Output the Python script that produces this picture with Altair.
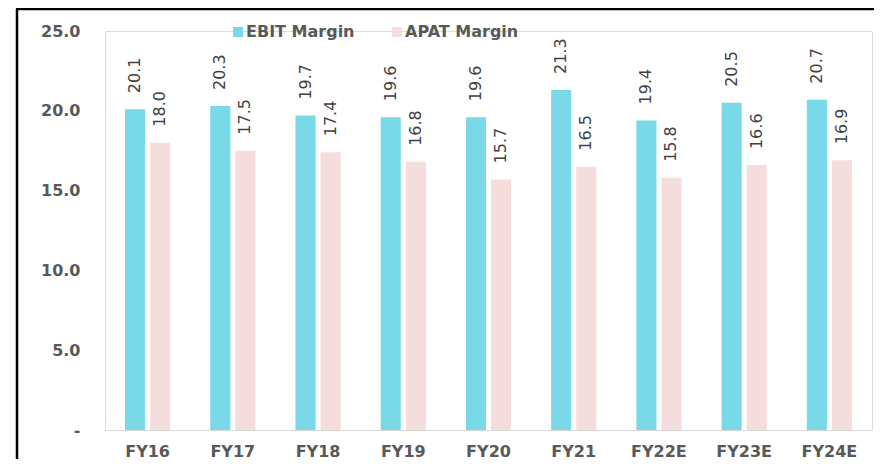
import altair as alt
import pandas as pd

years = ["FY16", "FY17", "FY18", "FY19", "FY20", "FY21", "FY22E", "FY23E", "FY24E"]
ebit = [20.1, 20.3, 19.7, 19.6, 19.6, 21.3, 19.4, 20.5, 20.7]
apat = [18.0, 17.5, 17.4, 16.8, 15.7, 16.5, 15.8, 16.6, 16.9]
series = ["EBIT Margin", "APAT Margin"]
colors = ["#79D9E7", "#F5DDDD"]

rows = []
for i, y in enumerate(years):
    rows.append({"year": y, "series": series[0], "value": ebit[i]})
    rows.append({"year": y, "series": series[1], "value": apat[i]})
df = pd.DataFrame(rows)

W, H = 767, 399

x = alt.X("year:N", sort=years, title=None,
          scale=alt.Scale(paddingInner=0.47, paddingOuter=0.235),
          axis=alt.Axis(labelAngle=0, labelFont="DejaVu Sans", labelFontSize=16,
                        labelFontWeight="bold", labelColor="#595959", ticks=False,
                        tickSize=0, labelPadding=13, domainColor="#D9D9D9",
                        domainWidth=1, grid=False))
xo = alt.XOffset("series:N", sort=series, scale=alt.Scale(paddingInner=0.2, paddingOuter=0))
y = alt.Y("value:Q", title=None,
          scale=alt.Scale(domain=[0, 25], nice=False),
          axis=alt.Axis(values=[0, 5, 10, 15, 20, 25], grid=False, domain=False, ticks=False,
                        tickSize=0, labelPadding=25, labelFont="DejaVu Sans", labelFontSize=16,
                        labelFontWeight="bold", labelColor="#595959",
                        labelExpr="datum.value == 0 ? '-\u00a0\u00a0' : format(datum.value, '.1f')"))

base = alt.Chart(df)

bars = base.mark_bar().encode(
    x=x, xOffset=xo, y=y,
    color=alt.Color("series:N", sort=series, title=None,
                    scale=alt.Scale(domain=series, range=colors),
                    legend=alt.Legend(orient="none", direction="horizontal",
                                      legendX=125, legendY=-7,
                                      symbolType="square", symbolSize=100,
                                      symbolStrokeWidth=0, labelFont="DejaVu Sans",
                                      labelFontSize=16, labelFontWeight="bold",
                                      labelColor="#595959", labelOffset=0,
                                      columnPadding=34)),
)

labels = base.mark_text(angle=270, align="left", baseline="middle", dx=16,
                        font="DejaVu Sans", fontSize=16, color="#404040").encode(
    x=x, xOffset=xo, y=y,
    text=alt.Text("value:Q", format=".1f"),
)

frame = alt.Chart(alt.Data(values=[{"k": 1}]))
left_line = frame.mark_rule(color="black", strokeWidth=2.5).encode(
    x=alt.value(-88), y=alt.value(-22), y2=alt.value(H + 60))
top_line = frame.mark_rule(color="black", strokeWidth=2.5).encode(
    x=alt.value(-89), x2=alt.value(W + 20), y=alt.value(-22))

chart = alt.layer(bars, labels, left_line, top_line).properties(
    width=W, height=H, autosize="none",
    padding={"left": 97, "top": 23, "right": 2, "bottom": 29},
).configure_view(stroke=None).configure(background="white")

chart.save("out.html", embed_options={"renderer": "svg", "actions": False})
